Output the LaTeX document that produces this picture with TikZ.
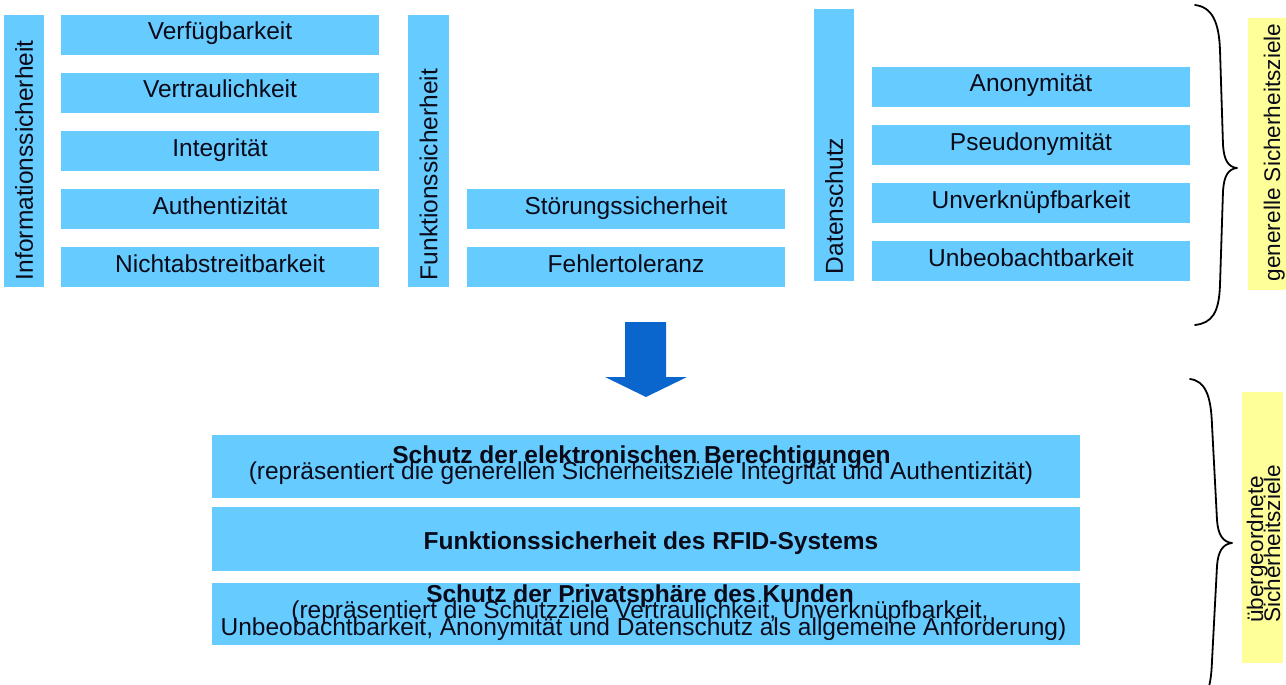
\documentclass[tikz,border=0pt]{standalone}
\usepackage{fontspec}
\setmainfont{Liberation Sans}
\definecolor{boxblue}{RGB}{102,204,255}
\definecolor{arrowblue}{RGB}{10,102,204}
\definecolor{labelyellow}{RGB}{255,255,153}
\definecolor{ink}{RGB}{10,10,25}
\begin{document}
\begin{tikzpicture}[x=1pt,y=-1pt,
  every node/.style={text=ink},
  goal/.style={fill=boxblue, draw=none, minimum width=318pt, minimum height=40pt, inner sep=0pt,
    text height=17pt, text depth=7pt, font=\fontsize{24.5}{28}\selectfont},
  bar/.style={fill=boxblue, draw=none, rotate=90, minimum width=272pt, minimum height=40pt,
    inner xsep=7pt, inner ysep=0pt, text width=258pt, align=left, font=\fontsize{24.5}{28}\selectfont},
  bigbox/.style={fill=boxblue, draw=none, minimum width=868pt, inner sep=0pt},
  boldline/.style={anchor=base, inner sep=0pt, font=\fontsize{24.5}{28}\selectfont\bfseries},
  plainline/.style={anchor=base, inner sep=0pt, font=\fontsize{24.5}{28}\selectfont},
  yellowbox/.style={fill=labelyellow, draw=none, inner sep=0pt},
  sidetext/.style={rotate=90, inner sep=0pt},
  bracepath/.style={draw=black, line width=1.8pt, line cap=round, line join=round}
]
\useasboundingbox (0,0) rectangle (1286,685);
\clip (0,0) rectangle (1286,685);

% column bars
\node[bar] (info) at (24,151) {Informationssicherheit};
\node[bar, minimum height=41pt] (funk) at (428.5,151) {Funktionssicherheit};
\node[bar] (daten) at (834,145) {Datenschutz};

% Informationssicherheit goals
\node[goal] (verf) at (220,35) {Verfügbarkeit};
\node[goal] (vert) at (220,93) {Vertraulichkeit};
\node[goal] (integ) at (220,151) {Integrität};
\node[goal] (auth) at (220,209) {Authentizität};
\node[goal] (nicht) at (220,267) {Nichtabstreitbarkeit};

% Funktionssicherheit goals
\node[goal] (stoer) at (626,209) {Störungssicherheit};
\node[goal] (fehler) at (626,267) {Fehlertoleranz};

% Datenschutz goals
\node[goal] (anon) at (1031,87) {Anonymität};
\node[goal] (pseudo) at (1031,145) {Pseudonymität};
\node[goal] (unverk) at (1031,203) {Unverknüpfbarkeit};
\node[goal] (unbeob) at (1031,261) {Unbeobachtbarkeit};

% brace 1 and label
\draw[bracepath] (1195,5) .. controls (1212,7) and (1219,22) .. (1220,50)
  -- (1223,145) .. controls (1224,160) and (1228,167) .. (1237,168)
  .. controls (1228,169) and (1224,176) .. (1223,191)
  -- (1220,285) .. controls (1219,313) and (1212,323) .. (1195,325);
\node[yellowbox, minimum width=38pt, minimum height=272pt] (gbox) at (1267,154) {};
\node[sidetext, anchor=base, font=\fontsize{22.6}{26}\selectfont] (gtext) at (1280,152.5) {generelle Sicherheitsziele};

% big arrow
\fill[arrowblue] (625,322) -- (666,322) -- (666,377) -- (687,377) -- (646,397)
  -- (605,377) -- (625,377) -- cycle;

% bottom boxes
\node[bigbox, minimum height=63pt] (box1) at (646,466.5) {};
\node[bigbox, minimum height=64pt] (box2) at (646,539) {};
\node[bigbox, minimum height=62pt] (box3) at (646,614) {};

\node[boldline] (b1a) at (641.5,463) {Schutz der elektronischen Berechtigungen};
\node[plainline] (b1b) at (641,479) {(repräsentiert die generellen Sicherheitsziele Integrität und Authentizität)};

\node[boldline] (b2a) at (651,549) {Funktionssicherheit des RFID-Systems};

\node[boldline] (b3a) at (640,602) {Schutz der Privatsphäre des Kunden};
\node[plainline] (b3b) at (640,618) {(repräsentiert die Schutzziele Vertraulichkeit, Unverknüpfbarkeit,};
\node[plainline] (b3c) at (643.5,635) {Unbeobachtbarkeit, Anonymität und Datenschutz als allgemeine Anforderung)};

% brace 2 and label
\draw[bracepath] (1190,379) .. controls (1205,381) and (1211,395) .. (1212,425)
  -- (1217,520) .. controls (1218,535) and (1223,542) .. (1232,543)
  .. controls (1223,544) and (1218,551) .. (1217,566)
  -- (1212,661) .. controls (1211,691) and (1205,705) .. (1190,707);
\node[yellowbox, minimum width=41pt, minimum height=271pt] (ubox) at (1262.5,527.5) {};
\node[sidetext, anchor=base west, font=\fontsize{22.6}{26}\selectfont] (utext1) at (1263,623) {übergeordnete};
\node[sidetext, anchor=base west, font=\fontsize{22.6}{26}\selectfont] (utext2) at (1280,623) {Sicherheitsziele};
\end{tikzpicture}
\end{document}
